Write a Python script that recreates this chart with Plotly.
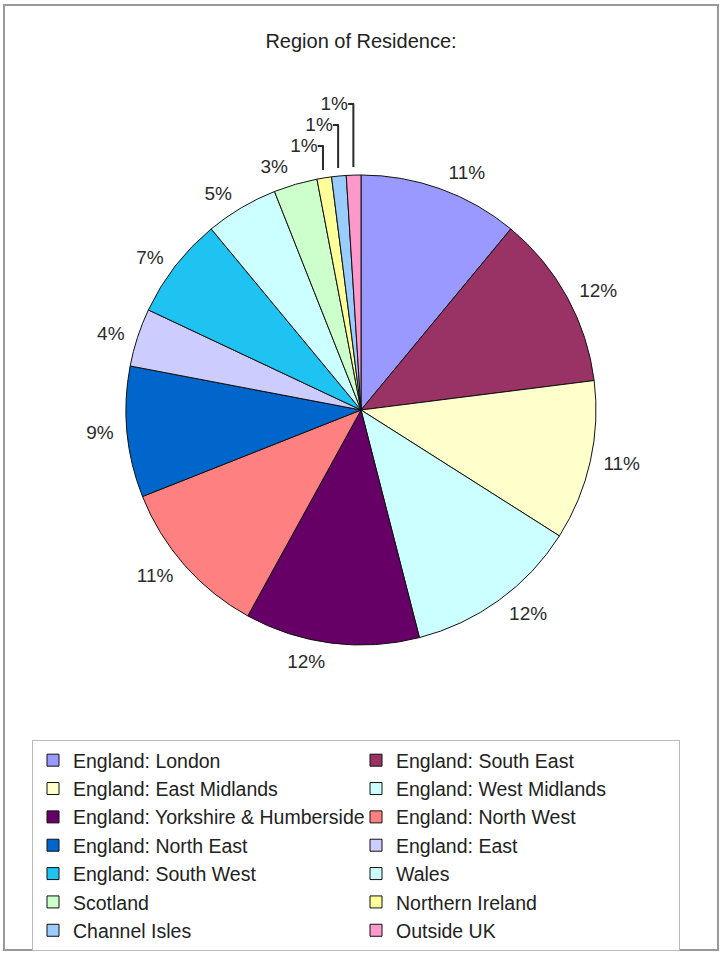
import plotly.graph_objects as go

W, H = 720, 955

regions = [
    "England: London", "England: South East", "England: East Midlands",
    "England: West Midlands", "England: Yorkshire & Humberside", "England: North West",
    "England: North East", "England: East", "England: South West", "Wales",
    "Scotland", "Northern Ireland", "Channel Isles", "Outside UK",
]
shares = [11, 12, 11, 12, 12, 11, 9, 4, 7, 5, 3, 1, 1, 1]
colors = [
    "#9999FF", "#993366", "#FFFFCC", "#CCFFFF", "#660066", "#FF8080",
    "#0066CC", "#CCCCFF", "#1EC3F2", "#CCFFFF", "#CCFFCC", "#FFFF99",
    "#99CCFF", "#FF99CC",
]
title_text = "Region of Residence:"

FONT = "Liberation Sans, Arial, sans-serif"
cx, cy, r = 361, 410, 235
r_lab = 243


def dom(rad):
    return dict(x=[(cx - rad) / W, (cx + rad) / W], y=[1 - (cy + rad) / H, 1 - (cy - rad) / H])


# visible pie (no text)
pie = go.Pie(
    labels=regions,
    values=shares,
    sort=False,
    direction="clockwise",
    rotation=0,
    marker=dict(colors=colors, line=dict(color="#111111", width=1)),
    textinfo="none",
    domain=dom(r),
    hoverinfo="label+percent",
    showlegend=True,
)

# transparent slightly larger pie carrying the outside percentage labels
labels_pie = go.Pie(
    labels=regions,
    values=shares,
    sort=False,
    direction="clockwise",
    rotation=0,
    marker=dict(colors=["rgba(0,0,0,0)"] * len(regions), line=dict(width=0)),
    texttemplate="%{percent:.0%}",
    textposition="outside",
    outsidetextfont=dict(family=FONT, size=19, color="#2a2a2a"),
    domain=dom(r_lab),
    hoverinfo="skip",
    showlegend=False,
)

fig = go.Figure([pie, labels_pie])

fig.update_layout(
    width=W, height=H,
    margin=dict(l=0, r=0, t=0, b=0),
    paper_bgcolor="white",
    plot_bgcolor="white",
    title=dict(text=title_text, x=361 / W, xanchor="center", y=1 - 41 / H, yanchor="middle",
               font=dict(family=FONT, size=20, color="#222222")),
    showlegend=True,
    legend=dict(
        orientation="h",
        x=32 / W, xanchor="left",
        y=1 - 740 / H, yanchor="top",
        bordercolor="#BBBBBB", borderwidth=1,
        bgcolor="white",
        font=dict(family=FONT, size=19.5, color="#222222"),
        entrywidth=278, entrywidthmode="pixels",
        traceorder="normal",
        itemwidth=30,
        tracegroupgap=0,
    ),
    shapes=[dict(type="rect", xref="paper", yref="paper",
                 x0=4 / W, x1=718 / W, y0=1 - 950 / H, y1=1 - 5 / H,
                 line=dict(color="#999999", width=2), fillcolor="rgba(0,0,0,0)", layer="below")],
)

fig.write_html("out.html", config={"displayModeBar": False},
               post_script="document.body.style.margin='0px';")
